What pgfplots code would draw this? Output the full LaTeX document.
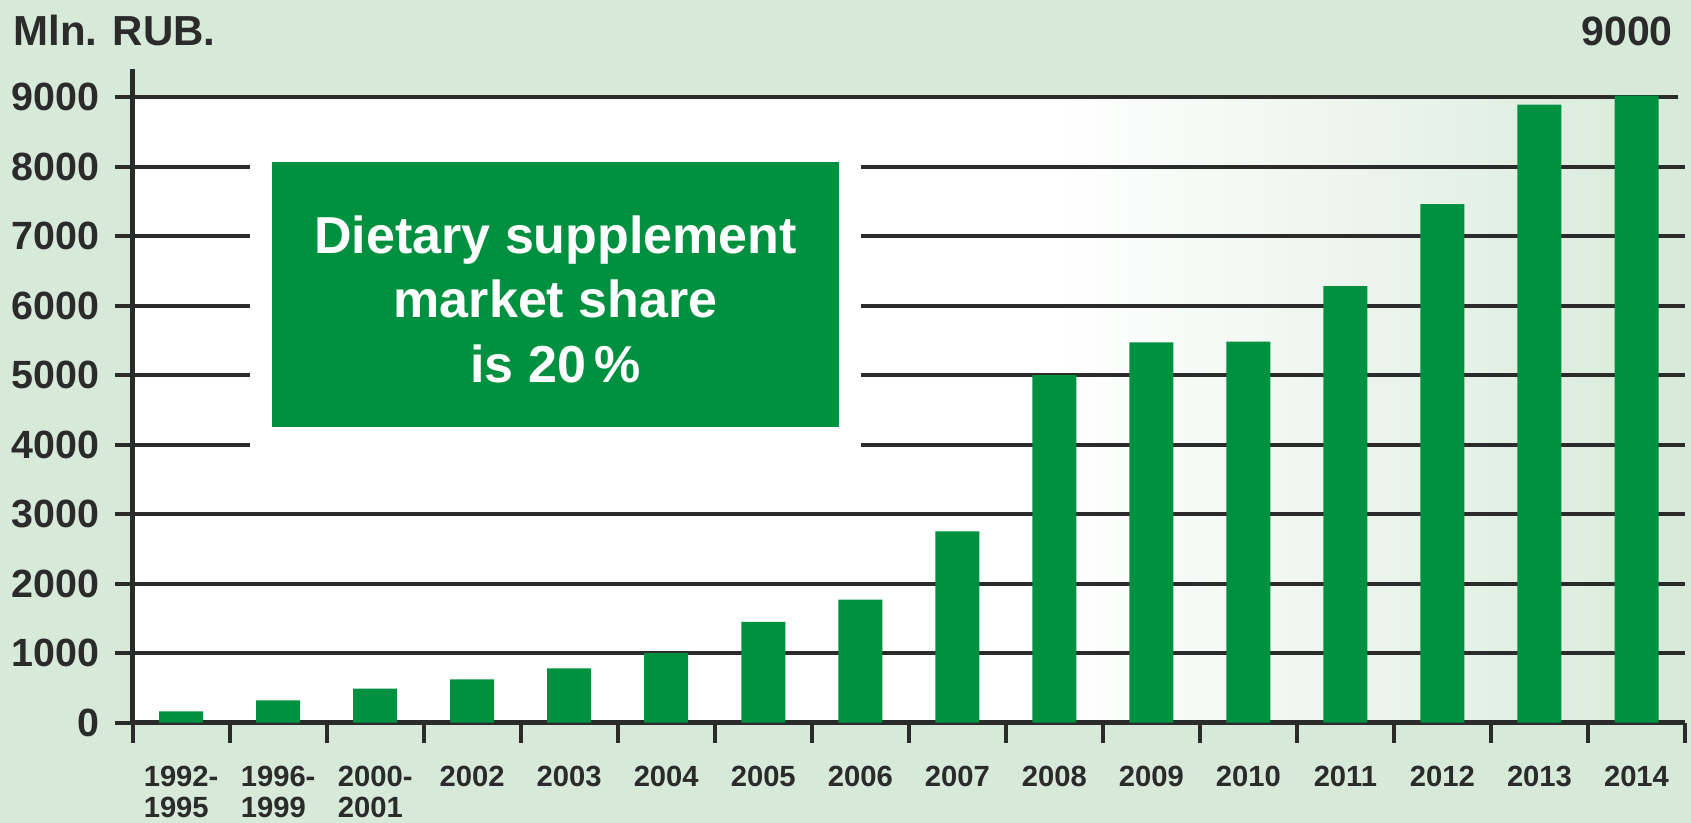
\documentclass[border=0pt]{standalone}
\usepackage{pgfplots}
\pgfplotsset{compat=1.18}
\usepackage{fontspec}
\setmainfont{Liberation Sans}
\definecolor{bg}{RGB}{215,234,217}
\definecolor{bargreen}{RGB}{0,145,64}
\definecolor{ink}{RGB}{43,43,43}
\pgfdeclarehorizontalshading{plotbg}{100bp}{color(0bp)=(white); color(25bp)=(white); color(54.7bp)=(white); color(75bp)=(bg); color(100bp)=(bg)}
\begin{document}
\begin{tikzpicture}
\fill[bg] (0,0) rectangle (845.5pt,411.5pt);
\begin{axis}[
  at={(66.3pt,50.2pt)}, anchor=south west,
  scale only axis, width=776.2pt, height=312.8pt,
  xmin=-0.5, xmax=15.5, ymin=0, ymax=9000,
  axis background/.style={shade, shading=plotbg},
  axis lines=left,
  axis line style={ink, line width=2.2pt, -},
  y axis line style={shorten >=-14pt},
  tick align=outside,
  xtick={0,...,15},
  xticklabels={{1992-\\1995},{1996-\\1999},{2000-\\2001},2002,2003,2004,2005,2006,2007,2008,2009,2010,2011,2012,2013,2014},
  minor xtick={-0.5,0.5,...,15.5},
  minor tick length=10pt,
  major tick length=9pt,
  x tick style={draw=none},
  minor x tick style={draw=ink, line width=2pt},
  ytick={0,1000,...,9000},
  minor ytick={},
  y tick style={draw=ink, line width=2pt},
  ymajorgrids,
  major grid style={ink, line width=2pt, shorten >=3.5pt},
  /pgf/number format/assume math mode=true,
  /pgf/number format/1000 sep={},
  yticklabel style={font=\bfseries\fontsize{19.7}{22}\selectfont, text=ink, xshift=-4pt},
  xticklabel style={font=\bfseries\fontsize{14.6}{15.6}\selectfont, text=ink, align=left, anchor=north, inner sep=0pt, yshift=-12.5pt},
  clip=false,
]
\addplot[ybar, bar width=22pt, fill=bargreen, draw=none] coordinates {
(0,160) (1,320) (2,490) (3,620) (4,780) (5,1000) (6,1450) (7,1770)
(8,2750) (9,5000) (10,5470) (11,5480) (12,6280) (13,7460) (14,8890) (15,9020)};
\fill[white] (axis cs:0.714,3941) rectangle (axis cs:7.003,8375);
\fill[bargreen] (axis cs:0.937,4252) rectangle (axis cs:6.78,8064);
\node[text=white, font=\bfseries\fontsize{26}{32.25}\selectfont, align=center] at (axis cs:3.86,6095) {Dietary supplement\\market share\\is 20\,\%};
\end{axis}
\node[anchor=base west, text=ink, font=\bfseries\fontsize{21}{24}\selectfont, inner sep=0pt] at (6.5pt,388.5pt) {Mln. RUB.};
\node[anchor=base east, text=ink, font=\bfseries\fontsize{20.5}{24}\selectfont, inner sep=0pt] at (836.5pt,388.5pt) {9000};
\end{tikzpicture}
\end{document}
